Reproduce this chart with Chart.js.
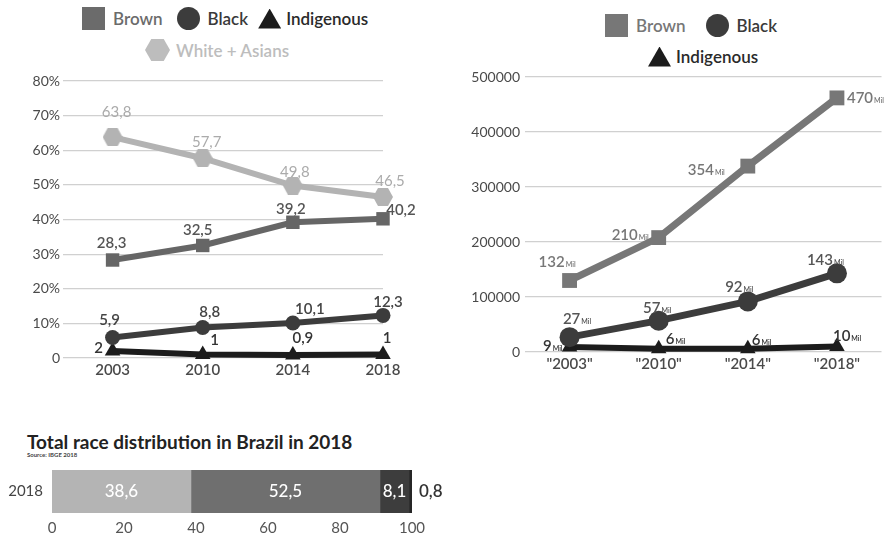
<!DOCTYPE html>
<html lang="en">
<head>
<meta charset="UTF-8">
<title>Race distribution in Brazil</title>
<script src="https://cdn.jsdelivr.net/npm/chart.js@4.4.0/dist/chart.umd.min.js"></script>
<style>
  body {
    margin: 0;
    width: 892px;
    height: 537px;
    background: #fff;
    font-family: Lato, "Open Sans", sans-serif;
    position: relative;
    overflow: hidden;
  }
  canvas { position: absolute; }
  .legend-row {
    position: absolute;
    display: flex;
    align-items: center;
    font-size: 17px;
    font-weight: 600;
    white-space: nowrap;
  }
  .item { display: flex; align-items: center; }
  .mk { display: inline-block; margin-right: 8px; }
  .sq { width: 23px; height: 23px; background: #6b6b6b; }
  .ci { width: 23px; height: 23px; border-radius: 50%; background: #3c3c3c; }
  .tr { width: 23px; height: 20px; background: #1c1c1c; clip-path: polygon(50% 0, 100% 100%, 0 100%); }
  .hx { width: 25px; height: 22px; background: #bdbdbd; clip-path: polygon(25% 0, 75% 0, 100% 50%, 75% 100%, 25% 100%, 0 50%); }
  .title { position: absolute; left: 27px; top: 432px; font-size: 19px; font-weight: 700; color: #222; line-height: 1; }
  .source { position: absolute; left: 27px; top: 452px; font-size: 6px; font-weight: 700; color: #444; line-height: 1; }
</style>
</head>
<body>
  <!-- left legend -->
  <div class="legend-row" style="left:82px; top:7px;">
    <span class="item" style="color:#6b6b6b; margin-right:14px;"><span class="mk sq"></span>Brown</span>
    <span class="item" style="color:#3a3a3a; margin-right:10px;"><span class="mk ci"></span>Black</span>
    <span class="item" style="color:#2a2a2a;"><span class="mk tr" style="margin-right:5px"></span>Indigenous</span>
  </div>
  <div class="legend-row" style="left:145px; top:39px;">
    <span class="item" style="color:#bdbdbd;"><span class="mk hx" style="margin-right:6px"></span>White + Asians</span>
  </div>

  <!-- right legend -->
  <div class="legend-row" style="left:605px; top:14px;">
    <span class="item" style="color:#777; margin-right:20px;"><span class="mk sq" style="background:#777"></span>Brown</span>
    <span class="item" style="color:#3a3a3a;"><span class="mk ci"></span>Black</span>
  </div>
  <div class="legend-row" style="left:648px; top:46px;">
    <span class="item" style="color:#2a2a2a;"><span class="mk tr" style="margin-right:5px"></span>Indigenous</span>
  </div>

  <canvas id="pctChart" width="450" height="390" style="left:0; top:0;"></canvas>
  <canvas id="absChart" width="442" height="390" style="left:450px; top:0;"></canvas>

  <div class="title">Total race distribution in Brazil in 2018</div>
  <div class="source">Source: IBGE 2018</div>
  <canvas id="distChart" width="480" height="77" style="left:0; top:460px;"></canvas>

<script>
const years = ['2003', '2010', '2014', '2018'];

// share of university students, %
const pctBrown = [28.3, 32.5, 39.2, 40.2];
const pctBlack = [5.9, 8.8, 10.1, 12.3];
const pctIndigenous = [2, 1, 0.9, 1];
const pctWhiteAsian = [63.8, 57.7, 49.8, 46.5];

// absolute numbers (as plotted) and the labels printed next to them
const absBrown = [130000, 208000, 338000, 462000];
const absBlack = [27000, 57000, 92000, 143000];
const absIndigenous = [9000, 6000, 6000, 10000];
const absBrownLabels = ['132', '210', '354', '470'];
const absBlackLabels = ['27', '57', '92', '143'];
const absIndigenousLabels = ['9', '6', '6', '10'];

// total population 2018, %
const distGroups = ['White + Asians', 'Brown', 'Black', 'Indigenous'];
const distValues = [38.6, 52.5, 8.1, 0.8];

const comma = v => String(v).replace('.', ',');

// hexagon marker for White + Asians
function hexagon(w, h, color) {
  const c = document.createElement('canvas');
  c.width = w; c.height = h;
  const g = c.getContext('2d');
  g.fillStyle = color;
  g.beginPath();
  g.moveTo(w * 0.25, 0); g.lineTo(w * 0.75, 0); g.lineTo(w, h / 2);
  g.lineTo(w * 0.75, h); g.lineTo(w * 0.25, h); g.lineTo(0, h / 2);
  g.closePath();
  g.fill();
  return c;
}

// draws text next to each point; pos = [dx, dy, align]
const pointLabels = {
  id: 'pointLabels',
  afterDatasetsDraw(chart) {
    const ctx = chart.ctx;
    chart.data.datasets.forEach((ds, di) => {
      const lab = ds.pointLabels;
      if (!lab) return;
      chart.getDatasetMeta(di).data.forEach((pt, i) => {
        const [dx, dy, align] = lab.pos[i];
        const text = lab.text[i];
        const x = pt.x + dx, y = pt.y + dy;
        ctx.save();
        ctx.fillStyle = lab.color;
        ctx.font = lab.font;
        if (lab.unit) {
          const w = ctx.measureText(text).width;
          ctx.font = lab.unitFont;
          const u = ctx.measureText(lab.unit).width;
          let sx = x - (w + u) / 2;
          if (align === 'left') sx = x;
          if (align === 'right') sx = x - w - u;
          ctx.textAlign = 'left';
          ctx.textBaseline = 'alphabetic';
          ctx.font = lab.font;
          ctx.fillText(text, sx, y + 5);
          ctx.font = lab.unitFont;
          ctx.fillText(lab.unit, sx + w + 1, y + 5);
        } else {
          ctx.textAlign = align || 'center';
          ctx.textBaseline = 'middle';
          ctx.fillText(text, x, y);
        }
        ctx.restore();
      });
    });
  }
};

// fixed axis boxes, no extra edge padding
const fixW = w => s => { s.width = w; s.paddingTop = 0; s.paddingBottom = 0; };
const fixH = h => s => { s.height = h; s.paddingLeft = 0; s.paddingRight = 0; };

const tickFont = { family: 'Lato', size: 14 };
const labelFont = '600 15px Lato';

// ---------- left: percentages ----------
const xy = arr => arr.map((v, i) => ({ x: i, y: v }));

new Chart(document.getElementById('pctChart'), {
  type: 'line',
  data: {
    datasets: [
      {
        label: 'White + Asians',
        data: xy(pctWhiteAsian),
        borderColor: '#b3b3b3',
        backgroundColor: '#b3b3b3',
        borderWidth: 6,
        pointStyle: hexagon(20, 18, '#b3b3b3'),
        pointLabels: {
          text: pctWhiteAsian.map(comma), color: '#ababab', font: '15px Lato',
          pos: [[4, -25], [4, -16], [2, -13], [7, -16]]
        }
      },
      {
        label: 'Brown',
        data: xy(pctBrown),
        borderColor: '#666',
        backgroundColor: '#666',
        borderWidth: 6,
        pointStyle: 'rect',
        pointRadius: 9.5,
        pointLabels: {
          text: pctBrown.map(comma), color: '#555', font: labelFont,
          pos: [[-1, -17], [-5, -15], [-2, -13], [18, -9]]
        }
      },
      {
        label: 'Black',
        data: xy(pctBlack),
        borderColor: '#3c3c3c',
        backgroundColor: '#3c3c3c',
        borderWidth: 6,
        pointStyle: 'circle',
        pointRadius: 7.5,
        pointLabels: {
          text: pctBlack.map(comma), color: '#444', font: labelFont,
          pos: [[-3, -17], [7, -15], [17, -14], [5, -13]]
        }
      },
      {
        label: 'Indigenous',
        data: xy(pctIndigenous),
        borderColor: '#1c1c1c',
        backgroundColor: '#1c1c1c',
        borderWidth: 6,
        pointStyle: 'triangle',
        pointRadius: 9,
        pointLabels: {
          text: pctIndigenous.map(comma), color: '#333', font: labelFont,
          pos: [[-14, -3], [12, -14], [10, -17], [4, -16]]
        }
      }
    ]
  },
  options: {
    responsive: false,
    animation: false,
    layout: { padding: { top: 81, left: 0, right: 67, bottom: 7 } },
    elements: { line: { tension: 0 }, point: { borderWidth: 0 } },
    datasets: { line: { clip: false, pointBorderWidth: 0 } },
    plugins: { legend: { display: false }, tooltip: { enabled: false } },
    scales: {
      x: {
        type: 'linear',
        min: -0.55,
        max: 3,
        grid: { display: false, drawTicks: false },
        border: { display: false },
        afterBuildTicks: s => { s.ticks = years.map((_, i) => ({ value: i })); },
        afterFit: fixH(25),
        ticks: {
          padding: 3,
          color: '#4a4a4a',
          font: { family: 'Lato', size: 15, weight: '600' },
          callback: v => years[v]
        }
      },
      y: {
        min: 0,
        max: 80,
        grid: { color: '#d0d0d0', lineWidth: 1.2, drawTicks: false },
        border: { display: false },
        afterFit: fixW(63),
        ticks: {
          stepSize: 10,
          padding: 3,
          color: '#4a4a4a',
          font: tickFont,
          callback: v => v === 0 ? '0' : v + '%'
        }
      }
    }
  },
  plugins: [pointLabels]
});

// ---------- right: absolute numbers ----------
const unitFont = '600 7px Lato';

new Chart(document.getElementById('absChart'), {
  type: 'line',
  data: {
    labels: years,
    datasets: [
      {
        label: 'Brown',
        data: absBrown,
        borderColor: '#777',
        backgroundColor: '#777',
        borderWidth: 7,
        pointStyle: 'rect',
        pointRadius: 10.5,
        pointLabels: {
          text: absBrownLabels, unit: 'Mil', color: '#777', font: labelFont, unitFont: unitFont,
          pos: [[-13, -19, 'center'], [-11, -3, 'right'], [-24, 4, 'right'], [10, 0, 'left']]
        }
      },
      {
        label: 'Black',
        data: absBlack,
        borderColor: '#3c3c3c',
        backgroundColor: '#3c3c3c',
        borderWidth: 7,
        pointStyle: 'circle',
        pointRadius: 10,
        pointLabels: {
          text: absBlackLabels, unit: 'Mil', color: '#555', font: labelFont, unitFont: unitFont,
          pos: [[7, -18, 'center'], [-2, -13, 'center'], [-9, -14, 'center'], [-12, -13, 'center']]
        }
      },
      {
        label: 'Indigenous',
        data: absIndigenous,
        borderColor: '#1c1c1c',
        backgroundColor: '#1c1c1c',
        borderWidth: 6,
        pointStyle: 'triangle',
        pointRadius: 9,
        pointLabels: {
          text: absIndigenousLabels, unit: 'Mil', color: '#333', font: labelFont, unitFont: unitFont,
          pos: [[-8, -1, 'right'], [7, -10, 'left'], [4, -9, 'left'], [-4, -11, 'left']]
        }
      }
    ]
  },
  options: {
    responsive: false,
    animation: false,
    layout: { padding: { top: 77, left: 0, right: 5, bottom: 13 } },
    elements: { line: { tension: 0 }, point: { borderWidth: 0 } },
    datasets: { line: { clip: false, pointBorderWidth: 0 } },
    plugins: { legend: { display: false }, tooltip: { enabled: false } },
    scales: {
      x: {
        offset: true,
        grid: { display: false, drawTicks: false },
        border: { display: false },
        afterFit: fixH(25),
        ticks: {
          padding: 3,
          color: '#4a4a4a',
          font: { family: 'Lato', size: 15, weight: '600' },
          callback: (v, i) => '"' + years[i] + '"'
        }
      },
      y: {
        min: 0,
        max: 500000,
        grid: { color: '#d0d0d0', lineWidth: 1.2, drawTicks: false },
        border: { display: false },
        afterFit: fixW(75),
        ticks: {
          stepSize: 100000,
          padding: 5,
          color: '#4a4a4a',
          font: tickFont,
          callback: v => String(v)
        }
      }
    }
  },
  plugins: [pointLabels]
});

// ---------- bottom: 2018 distribution ----------
const distColors = ['#b4b4b4', '#6f6f6f', '#3d3d3d', '#262626'];

const barLabels = {
  id: 'barLabels',
  afterDatasetsDraw(chart) {
    const ctx = chart.ctx;
    chart.data.datasets.forEach((ds, di) => {
      const bar = chart.getDatasetMeta(di).data[0];
      const text = comma(ds.data[0]);
      ctx.save();
      ctx.font = '500 17px Lato';
      ctx.textBaseline = 'middle';
      if (ds.data[0] >= 5) {
        ctx.fillStyle = '#fff';
        ctx.textAlign = 'center';
        ctx.fillText(text, (bar.x + bar.base) / 2, bar.y);
      } else {
        ctx.fillStyle = '#333';
        ctx.font = '600 17px Lato';
        ctx.textAlign = 'left';
        ctx.fillText(text, bar.x + 7, bar.y);
      }
      ctx.restore();
    });
  }
};

new Chart(document.getElementById('distChart'), {
  type: 'bar',
  data: {
    labels: ['2018'],
    datasets: distGroups.map((g, i) => ({
      label: g,
      data: [distValues[i]],
      backgroundColor: distColors[i],
      barPercentage: 1,
      categoryPercentage: 1
    }))
  },
  options: {
    indexAxis: 'y',
    responsive: false,
    animation: false,
    layout: { padding: { top: 10, left: 0, right: 68, bottom: 0 } },
    plugins: { legend: { display: false }, tooltip: { enabled: false } },
    scales: {
      x: {
        stacked: true,
        min: 0,
        max: 100,
        grid: { display: false, drawTicks: false },
        border: { display: false },
        afterFit: fixH(24),
        ticks: { stepSize: 20, padding: 6, color: '#555', font: { family: 'Lato', size: 15 } }
      },
      y: {
        stacked: true,
        grid: { display: false, drawTicks: false },
        border: { display: false },
        afterFit: fixW(52),
        ticks: { padding: 9, color: '#444', font: { family: 'Lato', size: 15 } }
      }
    }
  },
  plugins: [barLabels]
});
</script>
</body>
</html>
